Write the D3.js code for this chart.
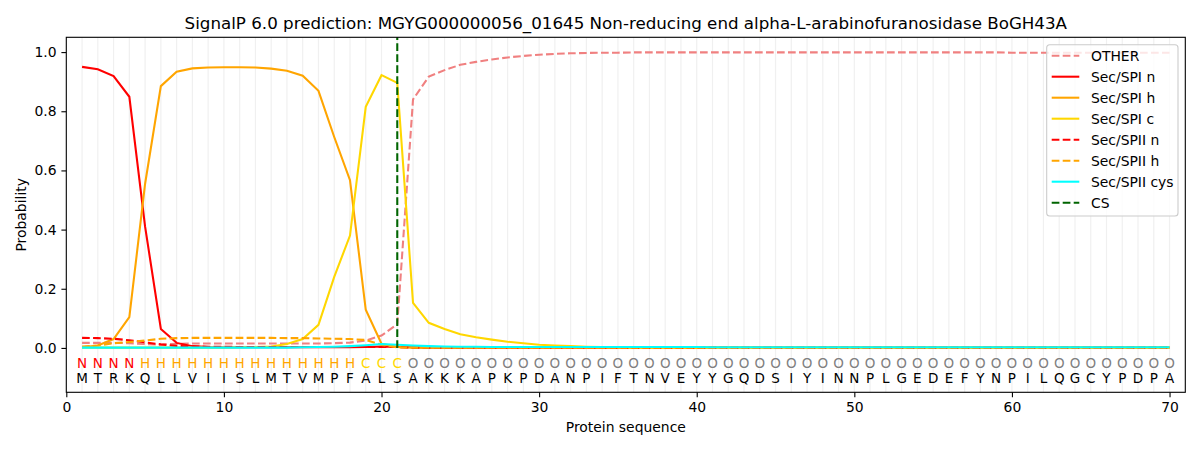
<!DOCTYPE html>
<html>
<head>
<meta charset="utf-8">
<script src="https://cdn.jsdelivr.net/npm/d3@7"></script>
<style>
  body { margin: 0; background: #fff; }
  svg { font-family: "DejaVu Sans", sans-serif; }
</style>
</head>
<body>
<svg id="chart" width="1200" height="450"></svg>
<script>
'use strict';

// residue sequence and per-residue predicted region label
const sequence = "MTRKQLLVIISLMTVMPFALSAKKKAPKPDANPIFTNVEYYGQDSIYINNPLGEDEFYNPILQGCYPDPA".split("");
const regionLabels = ("NNNN" + "HHHHHHHHHHHHHH" + "CCC" +
  "OOOOOOOOOO" + "OOOOOOOOOO" + "OOOOOOOOOO" + "OOOOOOOOOO" + "OOOOOOOOO").split("");
const cleavageSite = 21;

const xTicks = [0, 10, 20, 30, 40, 50, 60, 70];
const yTicks = [0.0, 0.2, 0.4, 0.6, 0.8, 1.0];

// probabilities per position (1..70)
const other = [0.017,0.017,0.017,0.016,0.013,0.011,0.014,0.015,0.015,0.015,
  0.015,0.015,0.015,0.015,0.015,0.015,0.016,0.018,0.025,0.042,
  0.080,0.840,0.917,0.939,0.957,0.967,0.975,0.982,0.987,0.991,
  0.994,0.996,0.997,0.998,0.998,0.999,0.999,0.999,0.999,0.999,
  0.999,0.999,0.999,0.999,0.999,0.999,0.999,0.999,0.999,0.999,
  0.999,0.999,0.999,0.999,0.999,0.999,0.999,0.999,0.999,0.998,
  0.998,0.998,0.998,0.998,0.998,0.998,0.998,0.998,0.998,0.998];
const spiN = [0.950,0.942,0.919,0.849,0.410,0.064,0.017,0.006,0.003,0.002,
  0.002,0.002,0.002,0.002,0.002,0.002,0.002,0.002,0.003,0.005,
  0.004,0.002,0.001,0.001,0.001,0.001,0.001,0.001,0.001,0.001,
  0.001,0.001,0.001,0.001,0.001,0.001,0.001,0.001,0.001,0.001,
  0.001,0.001,0.001,0.001,0.001,0.001,0.001,0.001,0.001,0.001,
  0.001,0.001,0.001,0.001,0.001,0.001,0.001,0.001,0.001,0.001,
  0.001,0.001,0.001,0.001,0.001,0.001,0.001,0.001,0.001,0.001];
const spiH = [0.002,0.008,0.030,0.104,0.555,0.885,0.934,0.945,0.948,0.949,
  0.949,0.948,0.944,0.937,0.920,0.869,0.713,0.567,0.129,0.014,
  0.003,0.001,0.001,0.001,0.001,0.001,0.001,0.001,0.001,0.001,
  0.001,0.001,0.001,0.001,0.001,0.001,0.001,0.001,0.001,0.001,
  0.001,0.001,0.001,0.001,0.001,0.001,0.001,0.001,0.001,0.001,
  0.001,0.001,0.001,0.001,0.001,0.001,0.001,0.001,0.001,0.001,
  0.001,0.001,0.001,0.001,0.001,0.001,0.001,0.001,0.001,0.001];
const spiC = [0.001,0.001,0.001,0.001,0.001,0.001,0.001,0.001,0.001,0.001,
  0.002,0.003,0.005,0.013,0.030,0.078,0.240,0.380,0.815,0.922,
  0.896,0.152,0.085,0.064,0.046,0.036,0.028,0.021,0.016,0.011,
  0.008,0.006,0.004,0.003,0.002,0.001,0.001,0.001,0.001,0.001,
  0.001,0.001,0.001,0.001,0.001,0.001,0.001,0.001,0.001,0.001,
  0.001,0.001,0.001,0.001,0.001,0.001,0.001,0.001,0.001,0.001,
  0.001,0.001,0.001,0.001,0.001,0.001,0.001,0.001,0.001,0.001];
const spiiN = [0.034,0.033,0.031,0.026,0.019,0.012,0.007,0.005,0.004,0.004,
  0.003,0.003,0.003,0.003,0.003,0.003,0.003,0.003,0.003,0.003,
  0.003,0.001,0.001,0.001,0.001,0.001,0.001,0.001,0.001,0.001,
  0.001,0.001,0.001,0.001,0.001,0.001,0.001,0.001,0.001,0.001,
  0.001,0.001,0.001,0.001,0.001,0.001,0.001,0.001,0.001,0.001,
  0.001,0.001,0.001,0.001,0.001,0.001,0.001,0.001,0.001,0.001,
  0.001,0.001,0.001,0.001,0.001,0.001,0.001,0.001,0.001,0.001];
const spiiH = [0.005,0.008,0.016,0.020,0.025,0.031,0.033,0.034,0.034,0.034,
  0.034,0.034,0.034,0.033,0.033,0.032,0.031,0.030,0.027,0.010,
  0.002,0.001,0.001,0.001,0.001,0.001,0.001,0.001,0.001,0.001,
  0.001,0.001,0.001,0.001,0.001,0.001,0.001,0.001,0.001,0.001,
  0.001,0.001,0.001,0.001,0.001,0.001,0.001,0.001,0.001,0.001,
  0.001,0.001,0.001,0.001,0.001,0.001,0.001,0.001,0.001,0.001,
  0.001,0.001,0.001,0.001,0.001,0.001,0.001,0.001,0.001,0.001];
const spiiCys = [0.001,0.001,0.001,0.001,0.001,0.001,0.001,0.001,0.001,0.001,
  0.001,0.001,0.001,0.001,0.002,0.003,0.004,0.006,0.009,0.013,
  0.011,0.008,0.006,0.005,0.004,0.004,0.003,0.003,0.003,0.003,
  0.003,0.003,0.003,0.003,0.003,0.003,0.003,0.003,0.003,0.003,
  0.002,0.002,0.002,0.002,0.002,0.002,0.002,0.002,0.002,0.002,
  0.002,0.002,0.002,0.002,0.002,0.002,0.002,0.002,0.002,0.002,
  0.002,0.002,0.002,0.002,0.002,0.002,0.002,0.002,0.002,0.002];

const series = [
  {name: "OTHER", values: other, color: "#f08080", dashed: true},
  {name: "Sec/SPI n", values: spiN, color: "red", dashed: false},
  {name: "Sec/SPI h", values: spiH, color: "orange", dashed: false},
  {name: "Sec/SPI c", values: spiC, color: "gold", dashed: false},
  {name: "Sec/SPII n", values: spiiN, color: "red", dashed: true},
  {name: "Sec/SPII h", values: spiiH, color: "orange", dashed: true},
  {name: "Sec/SPII cys", values: spiiCys, color: "cyan", dashed: false}
];
const labelColors = {N: "red", H: "orange", C: "gold", O: "grey"};

const svg = d3.select("#chart");
const margin = {left: 66.3, right: 14.7, top: 37.3, bottom: 57.7};
const width = 1200, height = 450;
const dash = "7.7,3.3";

const x = d3.scaleLinear().domain([0, 71]).range([margin.left, width - margin.right]);
const y = d3.scaleLinear().domain([-0.15, 1.05]).range([height - margin.bottom, margin.top]);

// light vertical guide at each residue
svg.append("g").selectAll("line").data(sequence).join("line")
  .attr("x1", (d, i) => x(i + 1)).attr("x2", (d, i) => x(i + 1))
  .attr("y1", y(-0.15)).attr("y2", y(1.05))
  .attr("stroke", "#f0f0f0").attr("stroke-width", 1.2);

// sequence and region letters under the curves
svg.append("g").selectAll("text").data(regionLabels).join("text")
  .attr("x", (d, i) => x(i + 1)).attr("y", y(-0.05) + 5)
  .attr("text-anchor", "middle").attr("font-size", "13.5px")
  .attr("fill", d => labelColors[d]).text(d => d);
svg.append("g").selectAll("text").data(sequence).join("text")
  .attr("x", (d, i) => x(i + 1)).attr("y", y(-0.1) + 5)
  .attr("text-anchor", "middle").attr("font-size", "13.5px")
  .attr("fill", "black").text(d => d);

const line = d3.line().x((d, i) => x(i + 1)).y(d => y(d));
series.forEach(s => {
  svg.append("path").datum(s.values)
    .attr("d", line).attr("fill", "none")
    .attr("stroke", s.color).attr("stroke-width", 2.08)
    .attr("stroke-dasharray", s.dashed ? dash : null);
});

// cleavage site marker
svg.append("line")
  .attr("x1", x(cleavageSite)).attr("x2", x(cleavageSite))
  .attr("y1", y(0)).attr("y2", y(1.05))
  .attr("stroke", "darkgreen").attr("stroke-width", 2.08).attr("stroke-dasharray", dash);

// axes
const xAxis = svg.append("g").attr("transform", `translate(0,${height - margin.bottom})`)
  .call(d3.axisBottom(x).tickValues(xTicks).tickSize(4.9).tickPadding(4.9).tickFormat(d3.format("d")));
const yAxis = svg.append("g").attr("transform", `translate(${margin.left},0)`)
  .call(d3.axisLeft(y).tickValues(yTicks).tickSize(4.9).tickPadding(4.9).tickFormat(d3.format(".1f")));
[xAxis, yAxis].forEach(a => {
  a.select(".domain").remove();
  a.selectAll("line").attr("stroke", "black").attr("stroke-width", 1.1);
  a.selectAll("text").attr("font-size", "13.9px").attr("fill", "black")
    .attr("font-family", "DejaVu Sans");
});

svg.append("rect")
  .attr("x", margin.left).attr("y", margin.top)
  .attr("width", width - margin.left - margin.right)
  .attr("height", height - margin.top - margin.bottom)
  .attr("fill", "none").attr("stroke", "black").attr("stroke-width", 1.1);

svg.append("text").attr("x", (margin.left + width - margin.right) / 2).attr("y", 29)
  .attr("text-anchor", "middle").attr("font-size", "16.7px")
  .text("SignalP 6.0 prediction: MGYG000000056_01645 Non-reducing end alpha-L-arabinofuranosidase BoGH43A");
svg.append("text").attr("x", (margin.left + width - margin.right) / 2).attr("y", 432)
  .attr("text-anchor", "middle").attr("font-size", "13.9px").text("Protein sequence");
svg.append("text").attr("transform", `translate(26,${(margin.top + height - margin.bottom) / 2}) rotate(-90)`)
  .attr("text-anchor", "middle").attr("font-size", "13.9px").text("Probability");

// legend
const legendItems = series.concat([{name: "CS", color: "darkgreen", dashed: true}]);
const legend = svg.append("g").attr("transform", "translate(1046.7,44.7)");
legend.append("rect").attr("width", 131.3).attr("height", 171.3).attr("rx", 3)
  .attr("fill", "white").attr("fill-opacity", 0.8).attr("stroke", "#cccccc").attr("stroke-width", 1.1);
const entry = legend.selectAll("g").data(legendItems).join("g")
  .attr("transform", (d, i) => `translate(0,${11 + i * 21})`);
entry.append("line").attr("x1", 5).attr("x2", 32.6)
  .attr("stroke", d => d.color).attr("stroke-width", 2.08)
  .attr("stroke-dasharray", d => d.dashed ? dash : null);
entry.append("text").attr("x", 44.3).attr("y", 5).attr("font-size", "13.9px").text(d => d.name);
</script>
</body>
</html>
